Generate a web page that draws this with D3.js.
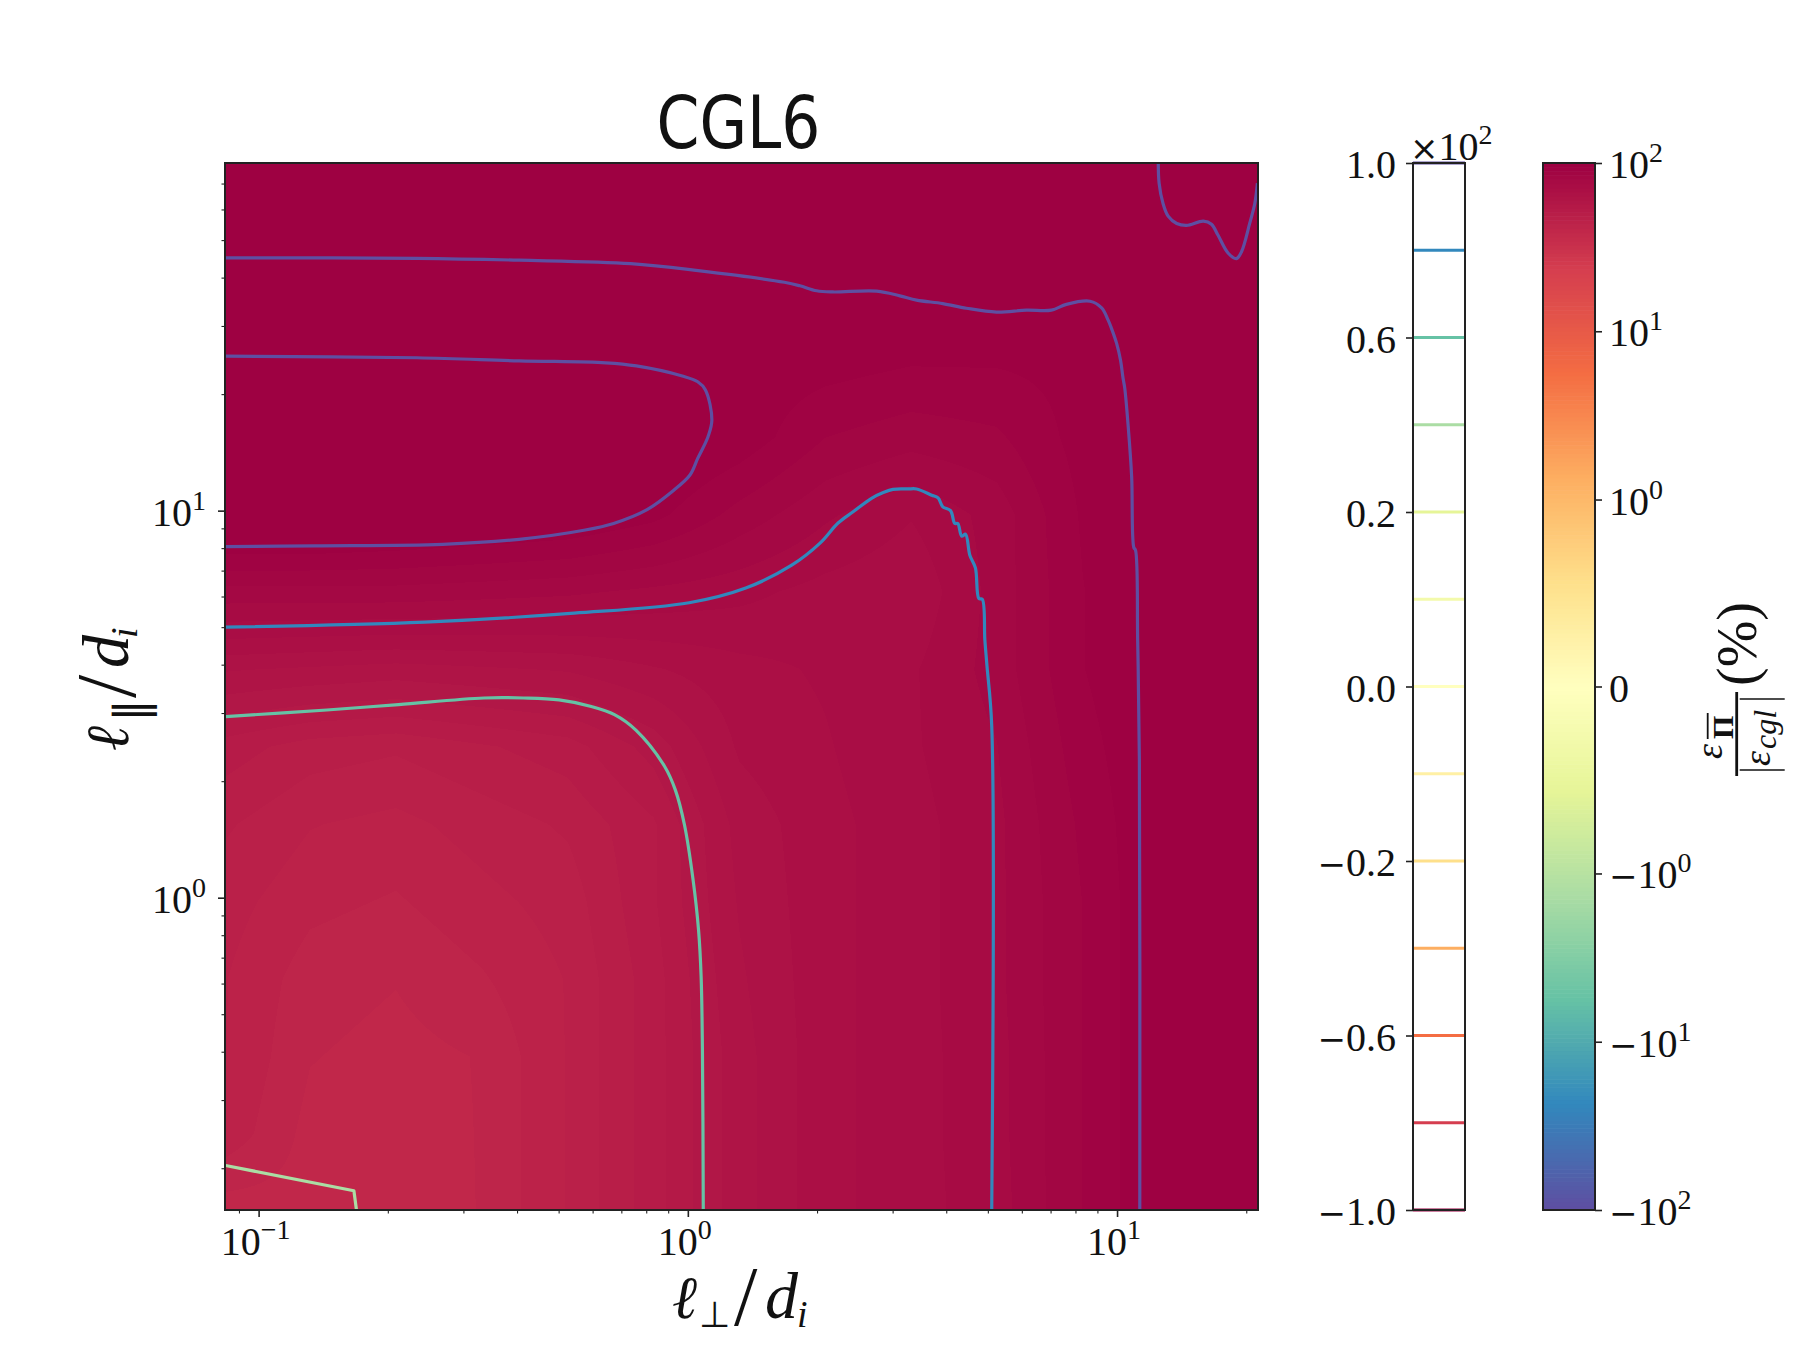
<!DOCTYPE html>
<html>
<head>
<meta charset="utf-8">
<title>CGL6</title>
<script src="https://cdn.jsdelivr.net/npm/d3@7"></script>
<style>
  html, body { margin: 0; background: #fff; }
  svg { display: block; }
  text { font-family: "Liberation Serif", serif; fill: #111; }
</style>
</head>
<body>
<div id="chart"></div>
<script>
// axis values
const xDomain = [0.0835, 21.3];
const yDomain = [0.156, 79.1];
const xMajor = [0.1, 1, 10];
const xMajorExp = ["\u22121", "0", "1"];
const xMinor = [0.09, 0.2, 0.3, 0.4, 0.5, 0.6, 0.7, 0.8, 0.9, 2, 3, 4, 5, 6, 7, 8, 9, 20];
const yMajor = [1, 10];
const yMajorExp = ["0", "1"];
const yMinor = [0.2, 0.3, 0.4, 0.5, 0.6, 0.7, 0.8, 0.9, 2, 3, 4, 5, 6, 7, 8, 9, 20, 30, 40, 50, 60, 70];

// colorbars
const levels = [100, 80, 60, 40, 20, 10, 0, -10, -20, -40, -60, -80, -100];
const levelTickLabels = ["1.0", "", "0.6", "", "0.2", "", "0.0", "", "\u22120.2", "", "\u22120.6", "", "\u22121.0"];
const normTicks = [100, 10, 1, 0, -1, -10, -100];
const normTickLabels = [["", "10", "2"], ["", "10", "1"], ["", "10", "0"], ["", "0", ""], ["\u2212", "10", "0"], ["\u2212", "10", "1"], ["\u2212", "10", "2"]];

// heat field in percent, nodes (log10 of ell, rows bottom to top)
const heatLogX = [-1.08, -0.88, -0.68, -0.48, -0.28, -0.08, 0.12, 0.32, 0.52, 0.72, 0.92, 1.12, 1.32];
const heatLogY = [-0.81, -0.61, -0.41, -0.21, -0.01, 0.19, 0.39, 0.59, 0.79, 0.99, 1.19, 1.39, 1.59, 1.79, 1.99];
const heatRows = [
  [40.5, 41, 40, 42, 47, 54, 64, 72, 76, 80, 92, 104, 115],
  [46, 41, 40.5, 42, 47, 54, 64, 72, 76, 80.5, 92, 104, 115],
  [47, 42, 41, 42, 47, 54, 64, 72, 76, 80.5, 92, 104, 115],
  [47, 43, 42, 44, 47, 54, 65, 72, 76, 81, 92, 104, 115],
  [48, 45, 44, 46, 48, 55, 66, 72, 76, 81, 92, 104, 115],
  [50, 47, 46, 48, 50, 55, 67, 72, 76, 81, 93, 104, 115],
  [54, 51, 50, 52, 54, 60, 70, 73, 77, 82, 95, 104, 115],
  [66, 65, 64, 65, 66, 69, 72, 74, 77, 84, 97, 105, 115],
  [85, 85, 85, 84, 83, 81, 79, 76, 74, 84, 97, 105, 115],
  [110, 110, 108, 106, 104, 99, 90, 83, 78, 84, 98, 105, 115],
  [115, 115, 115, 112, 110, 106, 101, 92, 89, 91, 99.5, 106, 115],
  [102, 102, 102, 102, 102, 102, 101, 100, 98, 98, 99, 104, 115],
  [100, 100, 100, 100, 100, 100, 100, 100.5, 102, 104, 104, 108, 115],
  [110, 110, 110, 110, 110, 110, 110, 110, 110, 110, 108, 99, 100],
  [115, 115, 115, 115, 115, 115, 115, 115, 115, 115, 110, 96, 96]
];

// contour lines as [log10 ell_perp, log10 ell_par]
const contour100Outer = [[-1.078, 1.653], [-0.631, 1.652], [-0.393, 1.647], [-0.133, 1.638], [0.024, 1.62], [0.225, 1.59], [0.261, 1.581], [0.3, 1.568], [0.338, 1.565], [0.44, 1.567], [0.494, 1.555], [0.533, 1.544], [0.594, 1.535], [0.649, 1.523], [0.719, 1.513], [0.789, 1.518], [0.847, 1.518], [0.882, 1.533], [0.937, 1.541], [0.964, 1.524], [0.979, 1.493], [0.987, 1.471], [0.999, 1.432], [1.008, 1.389], [1.014, 1.342], [1.018, 1.316], [1.026, 1.217], [1.034, 1.088], [1.039, 0.905], [1.043, 0.898], [1.048, 0.666], [1.052, 0.356], [1.053, -0.807]];
const contour100Loop = [[-1.078, 1.399], [-0.631, 1.395], [-0.393, 1.387], [-0.191, 1.382], [-0.12, 1.374], [-0.013, 1.348], [0.023, 1.333], [0.041, 1.312], [0.056, 1.234], [0.047, 1.191], [0.023, 1.135], [0.005, 1.092], [-0.037, 1.049], [-0.096, 1.002], [-0.173, 0.967], [-0.239, 0.95], [-0.393, 0.926], [-0.571, 0.913], [-0.869, 0.909], [-1.078, 0.907]];
const contour100Corner = [[1.096, 1.898], [1.098, 1.846], [1.107, 1.794], [1.119, 1.761], [1.139, 1.742], [1.162, 1.737], [1.201, 1.748], [1.22, 1.74], [1.235, 1.712], [1.259, 1.665], [1.278, 1.651], [1.29, 1.669], [1.309, 1.742], [1.321, 1.794], [1.327, 1.846]];
const contour80 = [[-1.078, 0.699], [-0.613, 0.712], [-0.265, 0.735], [0.003, 0.762], [0.135, 0.8], [0.242, 0.859], [0.308, 0.916], [0.35, 0.968], [0.385, 0.997], [0.428, 1.032], [0.454, 1.046], [0.478, 1.055], [0.513, 1.056], [0.533, 1.056], [0.568, 1.04], [0.583, 1.033], [0.594, 1.01], [0.612, 1.0], [0.622, 0.967], [0.629, 0.967], [0.638, 0.934], [0.647, 0.939], [0.657, 0.885], [0.67, 0.852], [0.678, 0.773], [0.686, 0.771], [0.692, 0.666], [0.697, 0.598], [0.708, 0.444], [0.708, -0.807]];
const contour60 = [[-1.077, 0.468], [-0.841, 0.485], [-0.674, 0.499], [-0.475, 0.516], [-0.383, 0.516], [-0.3, 0.511], [-0.225, 0.494], [-0.171, 0.473], [-0.121, 0.433], [-0.054, 0.339], [-0.029, 0.278], [-0.008, 0.189], [0.012, 0.048], [0.025, -0.084], [0.031, -0.205], [0.034, -0.394], [0.036, -0.807]];
const contour40 = [[-1.077, -0.692], [-0.778, -0.757], [-0.772, -0.807]];
const contours = [
  { level: 100, points: contour100Outer, curve: d3.curveCatmullRom.alpha(0.5) },
  { level: 100, points: contour100Loop, curve: d3.curveCatmullRom.alpha(0.5) },
  { level: 100, points: contour100Corner, curve: d3.curveCatmullRom.alpha(0.5) },
  { level: 80, points: contour80, curve: d3.curveCatmullRom.alpha(0.5) },
  { level: 60, points: contour60, curve: d3.curveCatmullRom.alpha(0.5) },
  { level: 40, points: contour40, curve: d3.curveLinear }
];

const W = 1800, H = 1360;
const plot = { left: 225, right: 1258, top: 163, bottom: 1210 };
const cbLevels = { left: 1413, right: 1465 };
const cbNorm = { left: 1543, right: 1595 };
const TICK_FONT = 40, SUP_FONT = 28, MINUS_FONT = 34, INK = "#222";

const svg = d3.select("#chart").append("svg").attr("width", W).attr("height", H).attr("viewBox", `0 0 ${W} ${H}`);

const x = d3.scaleLog().domain(xDomain).range([plot.left, plot.right]);
const y = d3.scaleLog().domain(yDomain).range([plot.bottom, plot.top]);

// Spectral as a piecewise linear map, same as the plotting library's 11 anchors
const spectral = d3.scaleLinear().domain(d3.range(11).map(i => i / 10)).range(d3.schemeSpectral[11]).interpolate(d3.interpolateRgb);
const spectralR = t => spectral(1 - t);

// symmetric log norm, linthresh 1, linscale 1
const LIN = 1 / (1 - 1 / 10);
const symlog = v => Math.abs(v) >= 1 ? Math.sign(v) * (LIN + Math.log10(Math.abs(v))) : v * LIN;
const normMax = symlog(100);
const norm = v => Math.max(0, Math.min(1, (symlog(v) + normMax) / (2 * normMax)));

// heat layer: 256 colour lookup, nodes blended between neighbours
const lut = d3.range(256).map(i => d3.rgb(spectralR(i / 255)));
const plotW = plot.right - plot.left, plotH = plot.bottom - plot.top;
const canvas = document.createElement("canvas");
canvas.width = plotW; canvas.height = plotH;
const ctx = canvas.getContext("2d");
const img = ctx.createImageData(plotW, plotH);
const colAt = d3.scaleLinear().domain([heatLogX[0], heatLogX[heatLogX.length - 1]]).range([0, heatLogX.length - 1]);
const rowAt = d3.scaleLinear().domain([heatLogY[0], heatLogY[heatLogY.length - 1]]).range([0, heatLogY.length - 1]);
for (let j = 0; j < plotH; j++) {
  const r = Math.max(0, Math.min(heatLogY.length - 1.001, rowAt(Math.log10(y.invert(plot.top + j + 0.5)))));
  const r0 = Math.floor(r), fr = r - r0;
  for (let i = 0; i < plotW; i++) {
    const c = Math.max(0, Math.min(heatLogX.length - 1.001, colAt(Math.log10(x.invert(plot.left + i + 0.5)))));
    const c0 = Math.floor(c), fc = c - c0;
    const v = (heatRows[r0][c0] * (1 - fc) + heatRows[r0][c0 + 1] * fc) * (1 - fr)
            + (heatRows[r0 + 1][c0] * (1 - fc) + heatRows[r0 + 1][c0 + 1] * fc) * fr;
    const col = lut[Math.round(norm(v) * 255)];
    const k = (j * plotW + i) * 4;
    img.data[k] = col.r; img.data[k + 1] = col.g; img.data[k + 2] = col.b; img.data[k + 3] = 255;
  }
}
ctx.putImageData(img, 0, 0);
svg.append("image").attr("x", plot.left).attr("y", plot.top).attr("width", plotW).attr("height", plotH)
  .attr("href", canvas.toDataURL("image/png"));

// contours
svg.append("clipPath").attr("id", "plot-clip").append("rect")
  .attr("x", plot.left).attr("y", plot.top).attr("width", plotW).attr("height", plotH);
const contourColor = level => spectral((level + 100) / 200);
const line = d3.line().x(d => x(10 ** d[0])).y(d => y(10 ** d[1]));
svg.append("g").attr("clip-path", "url(#plot-clip)").selectAll("path").data(contours).join("path")
  .attr("d", d => line.curve(d.curve)(d.points)).attr("fill", "none")
  .attr("stroke", d => contourColor(d.level)).attr("stroke-width", 3.2).attr("stroke-linejoin", "round");

// axes
function styleAxis(g, width) {
  g.select(".domain").remove();
  g.selectAll(".tick line").attr("stroke", INK).attr("stroke-width", width);
}
svg.append("g").attr("transform", `translate(0,${plot.bottom})`)
  .call(d3.axisBottom(x).tickValues(xMajor).tickSize(7).tickFormat("")).call(styleAxis, 1.6);
svg.append("g").attr("transform", `translate(0,${plot.bottom})`)
  .call(d3.axisBottom(x).tickValues(xMinor).tickSize(3.5).tickFormat("")).call(styleAxis, 1.1);
svg.append("g").attr("transform", `translate(${plot.left},0)`)
  .call(d3.axisLeft(y).tickValues(yMajor).tickSize(7).tickFormat("")).call(styleAxis, 1.6);
svg.append("g").attr("transform", `translate(${plot.left},0)`)
  .call(d3.axisLeft(y).tickValues(yMinor).tickSize(3.5).tickFormat("")).call(styleAxis, 1.1);

svg.append("rect").attr("x", plot.left).attr("y", plot.top).attr("width", plotW).attr("height", plotH)
  .attr("fill", "none").attr("stroke", INK).attr("stroke-width", 2);

// tick label with a superscript, optional wide minus in front
function powerLabel(px, py, anchor, minus, base, exp) {
  const t = svg.append("text").attr("x", px).attr("y", py).attr("text-anchor", anchor).attr("font-size", TICK_FONT);
  if (minus) t.append("tspan").style("font-family", "DejaVu Sans").attr("font-size", MINUS_FONT).text(minus);
  t.append("tspan").text(base);
  if (exp) t.append("tspan").attr("font-size", SUP_FONT).attr("dy", -16).text(exp);
  return t;
}
xMajor.forEach((v, i) => powerLabel(x(v) - 3, plot.bottom + 45, "middle", "", "10", xMajorExp[i]));
yMajor.forEach((v, i) => powerLabel(206, y(v) + 15, "end", "", "10", yMajorExp[i]));

// title and axis labels
svg.append("text").attr("x", 656.5).attr("y", 148).attr("font-size", 73)
  .attr("textLength", 164).attr("lengthAdjust", "spacingAndGlyphs").style("font-family", "DejaVu Sans").text("CGL6");

function mathLabel(parent, parts) {
  parts.forEach(p => parent.append("text").attr("x", p.u).attr("y", p.v).attr("font-size", p.size)
    .style("font-family", p.family || "Liberation Serif").attr("font-style", p.style || "italic").attr("font-weight", p.weight || null).text(p.s));
}
const xLabel = svg.append("g").attr("transform", "translate(675,1318)");
mathLabel(xLabel, [
  { u: -3, v: 0, size: 60, s: "\u2113", family: "DejaVu Serif" },
  { u: 24, v: 9, size: 36, s: "\u22A5", family: "DejaVu Sans", style: "normal" },
  { u: 59, v: 7, size: 84, s: "/", style: "normal" },
  { u: 90, v: 0, size: 66, s: "d" },
  { u: 122, v: 9, size: 38, s: "i" }
]);
const yLabel = svg.append("g").attr("transform", "translate(128,748) rotate(-90)");
mathLabel(yLabel, [
  { u: -3, v: 0, size: 60, s: "\u2113", family: "DejaVu Serif" },
  { u: 26, v: 19, size: 46, s: "\u2225", family: "DejaVu Sans", style: "normal" },
  { u: 50, v: 7, size: 84, s: "/", style: "normal" },
  { u: 80, v: 0, size: 66, s: "d" },
  { u: 110, v: 9, size: 38, s: "i" }
]);

// contour level bar, evenly spaced levels
const levelY = d3.scalePoint().domain(levels).range([plot.top, plot.bottom]);
svg.append("g").selectAll("line").data(levels).join("line")
  .attr("x1", cbLevels.left).attr("x2", cbLevels.right)
  .attr("y1", d => levelY(d)).attr("y2", d => levelY(d))
  .attr("stroke", d => contourColor(d)).attr("stroke-width", 2.8);
svg.append("rect").attr("x", cbLevels.left).attr("y", plot.top)
  .attr("width", cbLevels.right - cbLevels.left).attr("height", plotH)
  .attr("fill", "none").attr("stroke", INK).attr("stroke-width", 2);
const labelled = levels.filter((d, i) => levelTickLabels[i]);
svg.append("g").attr("transform", `translate(${cbLevels.left},0)`)
  .call(d3.axisLeft(levelY).tickValues(labelled).tickSize(7).tickFormat("")).call(styleAxis, 1.6);
levels.forEach((d, i) => {
  const s = levelTickLabels[i];
  if (!s) return;
  const neg = s[0] === "\u2212";
  powerLabel(1396, levelY(d) + 15, "end", neg ? "\u2212" : "", neg ? s.slice(1) : s, "");
});
const offset = svg.append("text").attr("x", 1410).attr("y", 160).attr("font-size", TICK_FONT);
offset.append("tspan").style("font-family", "DejaVu Sans").attr("font-size", 34).text("\u00D7");
offset.append("tspan").text("10");
offset.append("tspan").attr("font-size", SUP_FONT).attr("dy", -16).text("2");

// colormap bar on the symlog norm
const normY = d3.scaleLinear().domain([-normMax, normMax]).range([plot.bottom, plot.top]);
const steps = d3.range(256);
const stepT = d3.scaleLinear().domain([0, 256]).range([-normMax, normMax]);
svg.append("g").selectAll("rect").data(steps).join("rect")
  .attr("x", cbNorm.left).attr("width", cbNorm.right - cbNorm.left)
  .attr("y", d => normY(stepT(d + 1))).attr("height", d => normY(stepT(d)) - normY(stepT(d + 1)) + 0.6)
  .attr("fill", d => spectralR(d / 255));
svg.append("rect").attr("x", cbNorm.left).attr("y", plot.top)
  .attr("width", cbNorm.right - cbNorm.left).attr("height", plotH)
  .attr("fill", "none").attr("stroke", INK).attr("stroke-width", 2);
const normTickG = svg.append("g").attr("transform", `translate(${cbNorm.right},0)`);
normTickG.call(d3.axisRight(normY).tickValues(normTicks.map(symlog)).tickSize(7).tickFormat("")).call(styleAxis, 1.6);
normTicks.forEach((v, i) => {
  const [m, b, e] = normTickLabels[i];
  powerLabel(1609, normY(symlog(v)) + 15, "start", m, b, e);
});

// colorbar title, fraction laid out sideways
const cbLabel = svg.append("g").attr("transform", "translate(1736.7,776) rotate(-90)");
cbLabel.append("line").attr("x1", 0).attr("x2", 84).attr("y1", 0).attr("y2", 0).attr("stroke", "#111").attr("stroke-width", 2.8);
mathLabel(cbLabel, [
  { u: 17, v: -15, size: 38, s: "\u03B5" },
  { u: 37, v: -4, size: 30, s: "\u03A0", style: "normal", weight: "bold" }
]);
cbLabel.append("line").attr("x1", 37).attr("x2", 63).attr("y1", -29).attr("y2", -29).attr("stroke", "#111").attr("stroke-width", 1.8);
cbLabel.append("line").attr("x1", 6).attr("x2", 6).attr("y1", 3).attr("y2", 48).attr("stroke", "#111").attr("stroke-width", 1.5);
cbLabel.append("line").attr("x1", 77).attr("x2", 77).attr("y1", 3).attr("y2", 48).attr("stroke", "#111").attr("stroke-width", 1.5);
mathLabel(cbLabel, [
  { u: 10, v: 33, size: 38, s: "\u03B5" },
  { u: 27, v: 39, size: 32, s: "cgl" },
  { u: 90, v: 19, size: 56, s: "(%)", style: "normal" }
]);
</script>
</body>
</html>
